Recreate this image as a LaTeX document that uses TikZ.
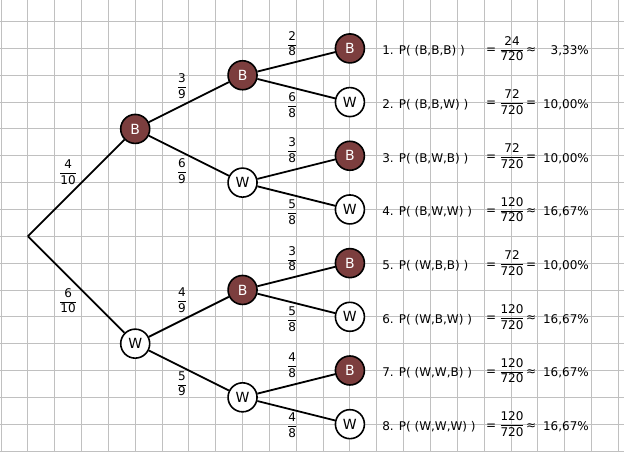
\documentclass[tikz,border=0pt]{standalone}
\usepackage{fontspec}
\setmainfont{DejaVu Sans}
\definecolor{ballbrown}{RGB}{124,62,62}
\definecolor{gridgray}{RGB}{192,192,192}
\newcommand\fr[2]{{\fontsize{12}{15}\selectfont\setlength\arrayrulewidth{0.8pt}\begin{tabular}{@{}c@{}}#1\\\hline #2\end{tabular}}}
\tikzset{
  gridline/.style={draw=gridgray, line width=0.9pt, xstep=26.84pt, ystep=26.84pt},
  ballB/.style={circle, draw, line width=1.6pt, fill=ballbrown, text=white, minimum size=29pt, inner sep=0pt, font=\fontsize{14}{14}\selectfont},
  ballW/.style={circle, draw, line width=1.6pt, fill=white, text=black, minimum size=29pt, inner sep=0pt, font=\fontsize{14}{14}\selectfont},
  branch/.style={line width=1.8pt},
  ptext/.style={inner sep=0pt, font=\fontsize{12}{15}\selectfont},
  plabel/.style={inner sep=0pt}
}
\newcommand\prow[6]{%
  \node[ptext, anchor=west] (t#1) at (13.2,#2+0.1) {#1. P( (#3) )};
  \node[ptext] (eq#1) at (17.26,#2+0.08) {=};
  \node[ptext] (f#1) at (18.04,#2+0.06) {\fr{#4}{720}};
  \node[ptext] (r#1) at (18.75,#2+0.08) {#5};
  \node[ptext, anchor=east] (p#1) at (20.91,#2+0.1) {#6};
}
\begin{document}
\begin{tikzpicture}[x=26.84pt, y=-26.84pt]
\useasboundingbox (-1.0373,-8.804) rectangle (22.212,8.037);
\fill[white] (-1.0373,-8.804) rectangle (22.212,8.037);
\draw[gridline] (-1.0373,-8.804) grid (22.212,8.037);

% tree nodes
\coordinate (r) at (0,0);
\node[ballB] (b) at (4,-4) {B};
\node[ballW] (w) at (4,4) {W};
\node[ballB] (bb) at (8,-6) {B};
\node[ballW] (bw) at (8,-2) {W};
\node[ballB] (wb) at (8,2) {B};
\node[ballW] (ww) at (8,6) {W};
\node[ballB] (bbb) at (12,-7) {B};
\node[ballW] (bbw) at (12,-5) {W};
\node[ballB] (bwb) at (12,-3) {B};
\node[ballW] (bww) at (12,-1) {W};
\node[ballB] (wbb) at (12,1) {B};
\node[ballW] (wbw) at (12,3) {W};
\node[ballB] (wwb) at (12,5) {B};
\node[ballW] (www) at (12,7) {W};

% branches
\draw[branch] (r) -- (b);
\draw[branch] (r) -- (w);
\draw[branch] (b) -- (bb);
\draw[branch] (b) -- (bw);
\draw[branch] (w) -- (wb);
\draw[branch] (w) -- (ww);
\draw[branch] (bb) -- (bbb);
\draw[branch] (bb) -- (bbw);
\draw[branch] (bw) -- (bwb);
\draw[branch] (bw) -- (bww);
\draw[branch] (wb) -- (wbb);
\draw[branch] (wb) -- (wbw);
\draw[branch] (ww) -- (wwb);
\draw[branch] (ww) -- (www);

% branch probabilities
\node[plabel] (l1) at (1.50,-2.35) {\fr{4}{10}};
\node[plabel] (l2) at (1.50,2.45) {\fr{6}{10}};
\node[plabel] (l3) at (5.74,-5.55) {\fr{3}{9}};
\node[plabel] (l4) at (5.74,-2.37) {\fr{6}{9}};
\node[plabel] (l5) at (5.74,2.44) {\fr{4}{9}};
\node[plabel] (l6) at (5.74,5.54) {\fr{5}{9}};
\node[plabel] (l7) at (9.85,-7.13) {\fr{2}{8}};
\node[plabel] (l8) at (9.85,-4.83) {\fr{6}{8}};
\node[plabel] (l9) at (9.85,-3.15) {\fr{3}{8}};
\node[plabel] (l10) at (9.85,-0.86) {\fr{5}{8}};
\node[plabel] (l11) at (9.85,0.88) {\fr{3}{8}};
\node[plabel] (l12) at (9.85,3.14) {\fr{5}{8}};
\node[plabel] (l13) at (9.85,4.86) {\fr{4}{8}};
\node[plabel] (l14) at (9.85,7.09) {\fr{4}{8}};

% results
\prow{1}{-7}{B,B,B}{24}{≈}{3,33\%}
\prow{2}{-5}{B,B,W}{72}{=}{10,00\%}
\prow{3}{-3}{B,W,B}{72}{=}{10,00\%}
\prow{4}{-1}{B,W,W}{120}{≈}{16,67\%}
\prow{5}{1}{W,B,B}{72}{=}{10,00\%}
\prow{6}{3}{W,B,W}{120}{≈}{16,67\%}
\prow{7}{5}{W,W,B}{120}{≈}{16,67\%}
\prow{8}{7}{W,W,W}{120}{≈}{16,67\%}
\end{tikzpicture}
\end{document}
